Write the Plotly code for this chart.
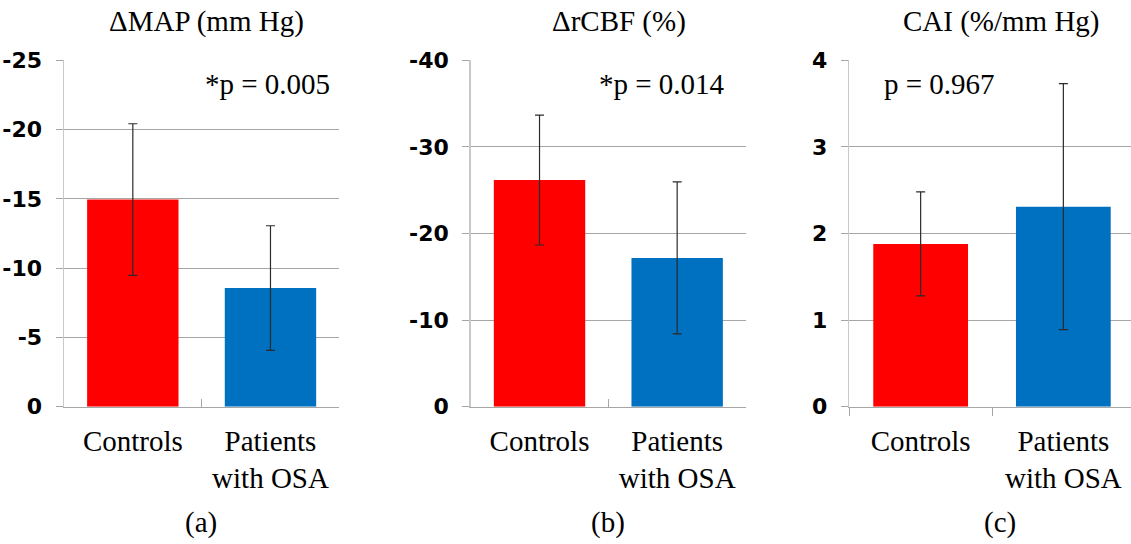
import plotly.graph_objects as go
from plotly.subplots import make_subplots

categories = ["Controls", "Patients<br>with OSA"]
colors = ["#FF0000", "#0070C0"]

map_values = [-14.95, -8.56]
map_errors = [5.47, 4.50]
rcbf_values = [-26.17, -17.18]
rcbf_errors = [7.50, 8.77]
cai_values = [1.88, 2.31]
cai_errors = [0.60, 1.42]

titles = ["\u0394MAP (mm Hg)", "\u0394rCBF (%)", "CAI (%/mm Hg)"]
pvals = ["*p = 0.005", "*p = 0.014", "p = 0.967"]
panel_labels = ["(a)", "(b)", "(c)"]

map_ticks = [0, -5, -10, -15, -20, -25]
rcbf_ticks = [0, -10, -20, -30, -40]
cai_ticks = [0, 1, 2, 3, 4]

W, H = 1131, 544
SERIF = "Liberation Serif, Times New Roman, serif"
SANS = "DejaVu Sans, Arial, sans-serif"
GRID = "#a6a6a6"

fig = make_subplots(rows=1, cols=3)

series = [(map_values, map_errors), (rcbf_values, rcbf_errors), (cai_values, cai_errors)]
for i, (vals, errs) in enumerate(series):
    fig.add_trace(go.Bar(
        x=categories, y=vals,
        marker=dict(color=colors, line=dict(width=0)),
        error_y=dict(type="data", array=errs, visible=True, color="#2a2a2a",
                     thickness=1.2, width=4.5),
        showlegend=False, hoverinfo="skip",
    ), row=1, col=i + 1)

xdomains = [(64 / W, 339.3 / W), (470.7 / W, 746 / W), (849.3 / W, 1.0)]
xranges = [[-0.5, 1.5], [-0.5, 1.5], [-0.5, -0.5 + (1131 - 849.3) / 142.7]]
yranges = [[0, -25], [0, -40], [0, 4]]
yticks = [map_ticks, rcbf_ticks, cai_ticks]
ydom = ((H - 406.7) / H, (H - 60.3) / H)

for i in range(3):
    sfx = "" if i == 0 else str(i + 1)
    inside = i < 2
    fig.layout["xaxis" + sfx].update(
        domain=list(xdomains[i]), type="category", range=xranges[i],
        showline=True, linecolor=GRID, linewidth=1,
        ticks="inside" if inside else "outside", tickson="boundaries",
        ticklen=8, tickcolor=GRID, tickwidth=1,
        showgrid=False, zeroline=False, automargin=False,
        tickfont=dict(family=SERIF, size=29, color="black"),
        ticklabelstandoff=8,
    )
    fig.layout["yaxis" + sfx].update(
        domain=list(ydom), range=yranges[i],
        tickvals=yticks[i], ticktext=[str(v) for v in yticks[i]],
        showgrid=True, gridcolor=GRID, gridwidth=1,
        showline=True, linecolor="#c8c8c8", linewidth=1.5,
        ticks="outside", ticklen=7, tickcolor=GRID, tickwidth=1,
        zeroline=False, automargin=False,
        tickfont=dict(family=SANS, size=22, color="black", weight="bold"),
        ticklabelstandoff=9,
    )

title_x = [206.2, 619.2, 1001.7]
p_x = [267, 661.7, 939.5]
lab_x = [201, 608, 1000]
ann = []
for i in range(3):
    ann.append(dict(text=titles[i], x=title_x[i] / W, y=(H - 22) / H, xref="paper", yref="paper",
                    xanchor="center", yanchor="middle", showarrow=False,
                    font=dict(family=SERIF, size=29, color="black")))
    ann.append(dict(text=pvals[i], x=p_x[i] / W, y=(H - 84) / H, xref="paper", yref="paper",
                    xanchor="center", yanchor="middle", showarrow=False,
                    font=dict(family=SERIF, size=29, color="black")))
    ann.append(dict(text=panel_labels[i], x=lab_x[i] / W, y=(H - 522) / H, xref="paper", yref="paper",
                    xanchor="center", yanchor="middle", showarrow=False,
                    font=dict(family=SERIF, size=29, color="black")))

fig.update_layout(
    width=W, height=H, margin=dict(l=0, r=0, t=0, b=0, autoexpand=False),
    paper_bgcolor="white", plot_bgcolor="white",
    bargap=0.336, annotations=ann, hovermode=False,
)

fig.write_html("out.html", config={"displayModeBar": False, "staticPlot": True},
               post_script="document.body.style.margin='0px';document.body.style.overflow='hidden';")
